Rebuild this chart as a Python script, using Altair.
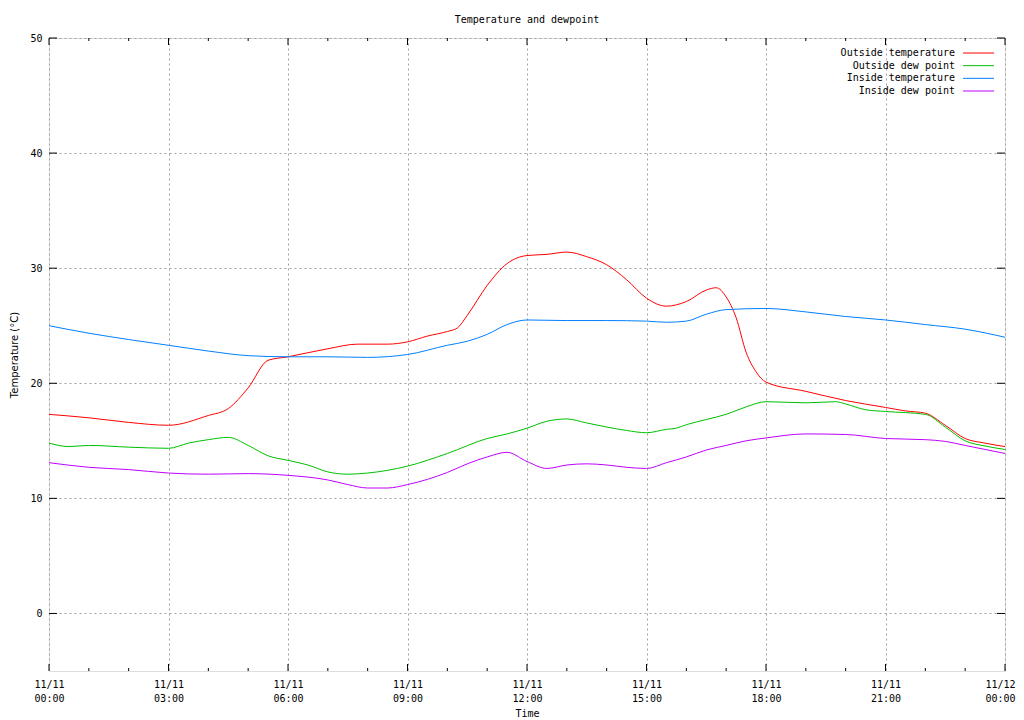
import altair as alt
import pandas as pd

# ---- data ----
series_names = ["Outside temperature", "Outside dew point", "Inside temperature", "Inside dew point"]
series_colors = ["#ff0000", "#00c000", "#0080ff", "#c000ff"]

out_temp_h = [0, 1, 2, 3, 4, 4.5, 5, 5.5, 6, 7, 7.75, 8.5, 9, 9.5, 10, 10.25, 10.5, 11, 11.5, 12,
              12.5, 13, 13.5, 14, 14.5, 15, 15.5, 16, 16.5, 16.75, 17, 17.25, 17.5, 17.75, 18,
              19, 20, 21, 21.5, 22, 22.5, 23, 23.5, 24]
out_temp_v = [17.3, 17.0, 16.6, 16.35, 17.2, 17.8, 19.6, 22.0, 22.3, 23.0, 23.4, 23.4, 23.6, 24.1, 24.5, 24.8,
              25.9, 28.5, 30.4, 31.1, 31.2, 31.4, 31.0, 30.3, 29.0, 27.4, 26.7, 27.1, 28.1, 28.3, 27.5,
              25.7, 22.7, 21.0, 20.1, 19.3, 18.5, 17.9, 17.6, 17.4, 16.35, 15.2, 14.8, 14.5]

out_dew_h = [0, 0.5, 1, 2, 3, 3.5, 4, 4.5, 5, 5.5, 6, 6.5, 7, 7.5, 8, 9, 10, 11, 11.5, 12, 12.5, 13,
             13.5, 14, 14.5, 15, 15.5, 15.75, 16, 16.5, 17, 17.5, 18, 19, 19.75, 20, 20.5, 21, 22,
             22.5, 23, 23.5, 24]
out_dew_v = [14.8, 14.5, 14.6, 14.45, 14.35, 14.8, 15.1, 15.3, 14.6, 13.7, 13.3, 12.9, 12.3, 12.1, 12.2,
             12.8, 13.9, 15.2, 15.6, 16.1, 16.7, 16.9, 16.55, 16.2, 15.9, 15.7, 16.0, 16.1, 16.4, 16.85,
             17.3, 17.95, 18.4, 18.3, 18.4, 18.2, 17.7, 17.55, 17.3, 16.2, 15.0, 14.55, 14.25]

in_temp_h = [0, 1, 2, 3, 4, 5, 6, 7, 8, 9, 10, 10.5, 11, 11.5, 12, 13, 14, 15, 15.5, 16, 16.5, 17,
             18, 19, 20, 21, 22, 23, 24]
in_temp_v = [25.0, 24.35, 23.8, 23.3, 22.8, 22.4, 22.3, 22.3, 22.25, 22.5, 23.3, 23.65, 24.25, 25.1,
             25.5, 25.45, 25.45, 25.4, 25.3, 25.4, 26.0, 26.4, 26.5, 26.2, 25.8, 25.5, 25.1, 24.7, 24.0]

in_dew_h = [0, 1, 2, 3, 4, 5, 6, 7, 7.5, 8, 8.5, 9, 10, 10.5, 11, 11.5, 12, 12.5, 13, 13.5, 14, 14.5,
            15, 15.5, 16, 16.5, 17, 17.5, 18, 19, 20, 21, 22, 22.5, 23, 23.5, 24]
in_dew_v = [13.1, 12.7, 12.5, 12.2, 12.1, 12.15, 12.0, 11.6, 11.2, 10.9, 10.9, 11.2, 12.25, 13.0, 13.6,
            14.0, 13.2, 12.6, 12.9, 13.0, 12.9, 12.7, 12.6, 13.1, 13.6, 14.2, 14.6, 15.0, 15.25, 15.6,
            15.55, 15.2, 15.1, 14.95, 14.6, 14.25, 13.9]

major_hours = [0, 3, 6, 9, 12, 15, 18, 21, 24]
minor_hours = [1, 2, 4, 5, 7, 8, 10, 11, 13, 14, 16, 17, 19, 20, 22, 23]
y_ticks = [0, 10, 20, 30, 40, 50]
y_domain = [-5, 50]

chart_title = "Temperature and dewpoint"
x_title = "Time"
y_title = "Temperature (°C)"

# ---- build tables ----
base = pd.Timestamp("2023-11-11T00:00:00Z")


def ts(h):
    return (base + pd.Timedelta(minutes=round(h * 60))).strftime("%Y-%m-%dT%H:%M:%SZ")


rows = []
for name, hs, vs in zip(series_names,
                        [out_temp_h, out_dew_h, in_temp_h, in_dew_h],
                        [out_temp_v, out_dew_v, in_temp_v, in_dew_v]):
    for h, v in zip(hs, vs):
        rows.append({"time": ts(h), "value": v, "series": name})
df = pd.DataFrame(rows)

major_df = pd.DataFrame({"time": [ts(h) for h in major_hours]})
minor_df = pd.DataFrame({"time": [ts(h) for h in minor_hours]})
yt_df = pd.DataFrame({"value": y_ticks})
leg_df = pd.DataFrame({"series": series_names})

W, H = 956, 633
MONO = "DejaVu Sans Mono"

x_scale = alt.Scale(type="utc", domain=[ts(0), ts(24)], nice=False)
y_scale = alt.Scale(domain=y_domain, nice=False, zero=False)
color_scale = alt.Scale(domain=series_names, range=series_colors)

x_axis = alt.Axis(
    values=[alt.DateTime(year=2023, month=11, date=11 + (h // 24), hours=h % 24, utc=True) for h in major_hours],
    labelExpr="[utcFormat(datum.value, '%m/%d'), utcFormat(datum.value, '%H:%M')]",
    ticks=False, domain=False, grid=True, gridColor="#a0a0a0", gridDash=[2, 3], gridWidth=1,
    labelFont=MONO, labelFontSize=10, labelColor="black", labelPadding=8, labelLineHeight=14,
    labelBaseline="top", labelFlush=False, labelOverlap=False,
    labelOffset={"condition": {"test": "datum.value >= utc(2023, 10, 12)", "value": -5}, "value": 0},
    title=x_title, titleFont=MONO, titleFontSize=10, titleFontWeight="normal", titleColor="black",
    titlePadding=5,
)
y_axis = alt.Axis(
    values=y_ticks, ticks=False, domain=False, grid=True, gridColor="#a0a0a0", gridDash=[2, 3], gridWidth=1,
    labelFont=MONO, labelFontSize=10, labelColor="black", labelPadding=7,
    title=y_title, titleFont="DejaVu Sans", titleFontSize=10, titleFontWeight="normal", titleColor="black",
    titlePadding=10,
)

lines = alt.Chart(df).mark_line(strokeWidth=1, interpolate="monotone").encode(
    x=alt.X("time:T", scale=x_scale, axis=x_axis),
    y=alt.Y("value:Q", scale=y_scale, axis=y_axis),
    color=alt.Color("series:N", scale=color_scale, legend=None),
    detail="series:N",
)

# tick marks (gnuplot-style: inward, mirrored)
xt_major_bot = alt.Chart(major_df).mark_rule(color="black", strokeWidth=1).encode(
    x=alt.X("time:T", scale=x_scale), y=alt.value(H), y2=alt.value(H - 7))
xt_major_top = alt.Chart(major_df).mark_rule(color="black", strokeWidth=1).encode(
    x=alt.X("time:T", scale=x_scale), y=alt.value(0), y2=alt.value(7))
xt_minor_bot = alt.Chart(minor_df).mark_rule(color="black", strokeWidth=1).encode(
    x=alt.X("time:T", scale=x_scale), y=alt.value(H), y2=alt.value(H - 3))
xt_minor_top = alt.Chart(minor_df).mark_rule(color="black", strokeWidth=1).encode(
    x=alt.X("time:T", scale=x_scale), y=alt.value(0), y2=alt.value(3))
yt_left = alt.Chart(yt_df).mark_rule(color="black", strokeWidth=1).encode(
    y=alt.Y("value:Q", scale=y_scale), x=alt.value(0), x2=alt.value(8))
yt_right = alt.Chart(yt_df).mark_rule(color="black", strokeWidth=1).encode(
    y=alt.Y("value:Q", scale=y_scale), x=alt.value(W), x2=alt.value(W - 8))

main = alt.layer(lines, xt_major_bot, xt_major_top, xt_minor_bot, xt_minor_top, yt_left, yt_right)

# in-plot key (text left of sample line, as gnuplot draws it)
leg_y = alt.Y("series:N", scale=alt.Scale(type="point", domain=series_names, range=[15, 53], padding=0),
              axis=None)
leg_text = alt.Chart(leg_df).mark_text(align="right", baseline="middle", font=MONO, fontSize=10,
                                       color="black").encode(
    y=leg_y, x=alt.value(906), text="series:N")
leg_line = alt.Chart(leg_df).mark_rule(strokeWidth=1).encode(
    y=leg_y, x=alt.value(914), x2=alt.value(945),
    color=alt.Color("series:N", scale=color_scale, legend=None))
legend = alt.layer(leg_text, leg_line)

chart = alt.layer(main, legend).resolve_scale(y="independent").properties(
    width=W, height=H,
    title=alt.TitleParams(chart_title, font=MONO, fontSize=10, fontWeight="normal", color="black",
                          anchor="middle", offset=8),
    autosize=alt.AutoSizeParams(type="none"),
    padding={"left": 41, "top": 30, "right": 11, "bottom": 49},
).configure_view(stroke="black", strokeWidth=1).configure(background="white")

chart.save("out.html", embed_options={"renderer": "svg", "actions": False})
